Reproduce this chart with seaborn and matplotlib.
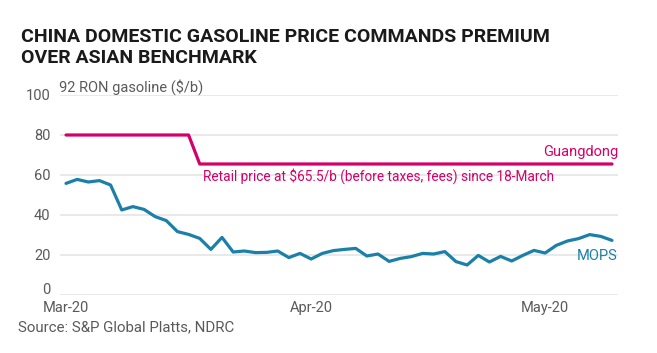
import numpy as np
import pandas as pd
import matplotlib
matplotlib.use("Agg")
import matplotlib.pyplot as plt
import matplotlib.transforms as mtransforms
import seaborn as sns

# ---- data ----
trading_days = pd.bdate_range("2020-03-02", "2020-05-13", freq="C",
                              holidays=["2020-04-10", "2020-05-01", "2020-05-07"])
mops = [55.8, 57.8, 56.5, 57.2, 55.0, 42.5, 44.2, 42.8, 39.2, 37.2,
        31.7, 30.3, 28.3, 22.8, 28.8, 21.5, 22.0, 21.2, 21.3, 22.0,
        18.7, 20.8, 18.0, 20.8, 22.2, 22.8, 23.3, 19.5, 20.5, 16.8,
        18.3, 19.2, 20.8, 20.5, 21.7, 16.7, 15.0, 19.8, 16.5, 19.3,
        17.0, 19.8, 22.3, 21.0, 24.8, 27.0, 28.2, 30.2, 29.3, 27.3]
guangdong = [80.0] * 12 + [65.5] * 38
y_ticks = [0, 20, 40, 60, 80, 100]
month_labels = ["Mar-20", "Apr-20", "May-20"]

title_lines = ["CHINA DOMESTIC GASOLINE PRICE COMMANDS PREMIUM",
               "OVER ASIAN BENCHMARK"]
unit_label = "92 RON gasoline ($/b)"
retail_note = "Retail price at $65.5/b (before taxes, fees) since 18-March"
source = "Source: S&P Global Platts, NDRC"

MAGENTA = "#d4006a"
BLUE = "#1b80a8"
GRAY = "#5a5a5a"

df = pd.DataFrame({"pos": np.arange(len(trading_days)),
                   "date": trading_days,
                   "MOPS": mops,
                   "Guangdong": guangdong})

sns.set_theme(style="white")
plt.rcParams["font.family"] = ["Roboto", "DejaVu Sans"]

fig = plt.figure(figsize=(6.57, 3.53), dpi=100)
ax = fig.add_axes([60 / 657, 1 - 295 / 353, 558 / 657, 200 / 353])

sns.lineplot(data=df, x="pos", y="Guangdong", color=MAGENTA, linewidth=2.3, ax=ax)
sns.lineplot(data=df, x="pos", y="MOPS", color=BLUE, linewidth=2.3, ax=ax)

ax.set_xlim(-0.54, len(trading_days) - 1 + 0.54)
ax.set_ylim(0, 100)
ax.set_yticks(y_ticks)
ax.yaxis.grid(True, color="#e3e3e3", linewidth=1.1)
ax.set_axisbelow(True)
for s in ax.spines.values():
    s.set_visible(False)

months = df["date"].dt.to_period("M")
first_idx = [int(df["pos"][months == m].iloc[0]) for m in months.unique()]
ax.set_xticks(first_idx)
ax.set_xticklabels(month_labels)
ax.tick_params(axis="both", length=0, labelsize=10.5, labelcolor=GRAY)
ax.tick_params(axis="y", pad=7)
ax.tick_params(axis="x", pad=4)
ax.set_xlabel("")
ax.set_ylabel("")

# lift the "0" label slightly, as in the reference
fig.canvas.draw()
zero_lbl = ax.get_yticklabels()[0]
zero_lbl.set_transform(zero_lbl.get_transform() +
                       mtransforms.ScaledTranslation(0, 6 / 100, fig.dpi_scale_trans))

xmax = len(trading_days) - 1 + 0.54
ax.text(xmax, 71.6, "Guangdong", color=MAGENTA, fontsize=10.5, ha="right", va="center")
ax.text(12.3, 59.7, retail_note, color=MAGENTA, fontsize=9.8, ha="left", va="center")
ax.text(xmax, 19.7, "MOPS", color=BLUE, fontsize=10.5, ha="right", va="center")
ax.text(-0.6, 103.8, unit_label, color=GRAY, fontsize=10.5, ha="left", va="center")

fig.text(21 / 657, 1 - 41.7 / 353, title_lines[0], fontsize=14, fontweight="bold",
         color="#1a1a1a", va="baseline")
fig.text(21 / 657, 1 - 62.7 / 353, title_lines[1], fontsize=14, fontweight="bold",
         color="#1a1a1a", va="baseline")
fig.text(18 / 657, 1 - 327 / 353, source, fontsize=10.8, color=GRAY, ha="left", va="center")

fig.savefig("out.png", dpi=100)
